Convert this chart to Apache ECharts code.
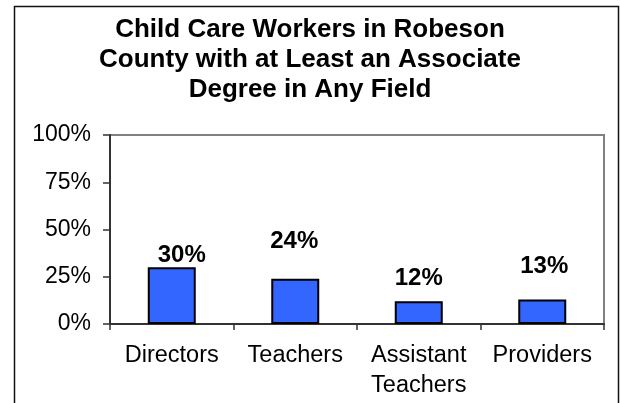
<!DOCTYPE html>
<html>
<head>
<meta charset="utf-8">
<script src="https://cdn.jsdelivr.net/npm/echarts@6/dist/echarts.min.js"></script>
<style>
  html, body { margin: 0; padding: 0; background: #fff; }
  #main { width: 620px; height: 403px; }
</style>
</head>
<body>
<div id="main"></div>
<script>
// chart data
var categories = ['Directors', 'Teachers', 'Assistant\nTeachers', 'Providers'];
var shares = [30, 24, 12, 13];
var yTicks = [0, 25, 50, 75, 100];

// the value labels in the original sit at uneven heights
var labelOffsets = [[10, 5], [-1, -20], [0, -6], [2, -16]];

var myChart = echarts.init(document.getElementById('main'));

var option = {
  backgroundColor: '#fff',
  animation: false,
  textStyle: { fontFamily: 'Liberation Sans, Arial, sans-serif' },
  title: {
    text: 'Child Care Workers in Robeson\nCounty with at Least an Associate\nDegree in Any Field',
    left: 'center',
    top: 15,
    padding: 0,
    textStyle: {
      fontFamily: 'Liberation Sans, Arial, sans-serif',
      fontSize: 26,
      fontWeight: 'bold',
      color: '#000',
      lineHeight: 30
    }
  },
  graphic: [{
    type: 'rect',
    shape: { x: 14.5, y: 6.5, width: 604, height: 430 },
    style: { fill: null, stroke: '#111', lineWidth: 1.5 },
    silent: true
  }],
  grid: {
    left: 110,
    right: 16,
    top: 135,
    bottom: 79,
    show: true,
    borderColor: '#808080',
    borderWidth: 2,
    backgroundColor: '#fff'
  },
  xAxis: {
    type: 'category',
    data: categories,
    axisLine: { lineStyle: { color: '#333', width: 2 } },
    axisTick: { show: true, length: 6, lineStyle: { color: '#333', width: 1.5 } },
    axisLabel: {
      color: '#000',
      fontSize: 23.5,
      lineHeight: 30,
      margin: 17,
      interval: 0
    }
  },
  yAxis: {
    type: 'value',
    min: yTicks[0],
    max: yTicks[yTicks.length - 1],
    interval: 25,
    splitLine: { show: false },
    axisLine: { show: true, lineStyle: { color: '#333', width: 2 } },
    axisTick: { show: true, length: 7, lineStyle: { color: '#333', width: 1.5 } },
    axisLabel: {
      color: '#000',
      fontSize: 23,
      margin: 19,
      formatter: '{value}%'
    }
  },
  series: [{
    type: 'bar',
    barWidth: 48,
    data: shares.map(function (v, i) {
      return { value: v, label: { offset: labelOffsets[i] } };
    }),
    itemStyle: { color: '#3366ff', borderColor: '#000', borderWidth: 2 },
    label: {
      show: true,
      position: 'top',
      distance: 5,
      formatter: '{c}%',
      color: '#000',
      fontSize: 24,
      fontWeight: 'bold'
    }
  }]
};

myChart.setOption(option);
</script>
</body>
</html>
